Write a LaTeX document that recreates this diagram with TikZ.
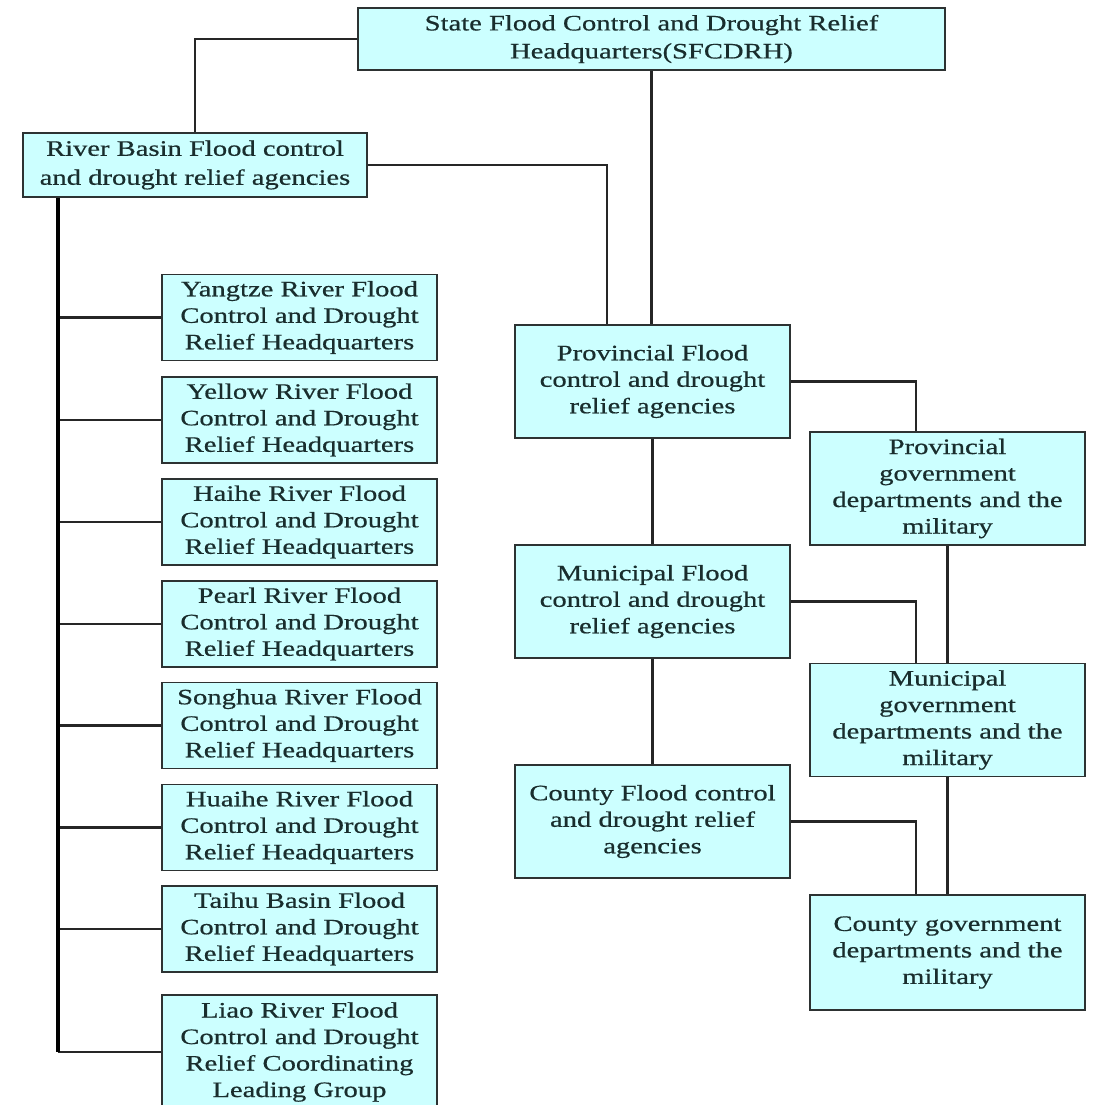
\documentclass[tikz,border=0pt]{standalone}
\usepackage{fontspec}
\setmainfont{Liberation Serif}[FakeStretch=1.3,FakeBold=0.6]
\definecolor{boxfill}{RGB}{204,255,255}
\definecolor{boxline}{RGB}{45,50,50}
\definecolor{txt}{RGB}{25,45,45}
\begin{document}
\begin{tikzpicture}[x=1pt,y=-1pt,
  box/.style={draw=boxline,fill=boxfill,line width=1.8pt,inner sep=0pt,align=center,
    text=txt,font=\fontsize{22}{26.5}\selectfont},
  bigbox/.style={box,minimum width=275,minimum height=113},
  leftbox/.style={box,minimum width=275,minimum height=86},
  conn/.style={draw=black!85,line width=2.3pt},
  busline/.style={draw=black,line width=3.4pt}]
\useasboundingbox (0,0) rectangle (1094,1105);
\clip (0,0) rectangle (1094,1105);
% top and river basin
\node[box,minimum width=587,minimum height=62,font=\fontsize{22}{28}\selectfont] (state) at (651.5,39)
  {State Flood Control and Drought Relief\\Headquarters(SFCDRH)};
\node[box,minimum width=344,minimum height=64,font=\fontsize{22}{29}\selectfont] (rb) at (195,165)
  {River Basin Flood control\\and drought relief agencies};
% middle column
\node[bigbox] (prov) at (652.5,381.5) {Provincial Flood\\control and drought\\relief agencies};
\node[bigbox] (mun) at (652.5,601.5) {Municipal Flood\\control and drought\\relief agencies};
\node[bigbox] (cty) at (652.5,821.5) {County Flood control\\and drought relief\\agencies};
% right column
\node[bigbox] (provg) at (947.5,488.5) {Provincial\\government\\departments and the\\military};
\node[bigbox] (mung) at (947.5,720) {Municipal\\government\\departments and the\\military};
\node[bigbox,minimum height=115] (ctyg) at (947.5,952.5) {County government\\departments and the\\military};
% left column
\node[leftbox] (yangtze) at (299.5,317.5) {Yangtze River Flood\\Control and Drought\\Relief Headquarters};
\node[leftbox] (yellow) at (299.5,420) {Yellow River Flood\\Control and Drought\\Relief Headquarters};
\node[leftbox] (haihe) at (299.5,522) {Haihe River Flood\\Control and Drought\\Relief Headquarters};
\node[leftbox] (pearl) at (299.5,624) {Pearl River Flood\\Control and Drought\\Relief Headquarters};
\node[leftbox] (songhua) at (299.5,725.5) {Songhua River Flood\\Control and Drought\\Relief Headquarters};
\node[leftbox] (huaihe) at (299.5,827.5) {Huaihe River Flood\\Control and Drought\\Relief Headquarters};
\node[leftbox] (taihu) at (299.5,929) {Taihu Basin Flood\\Control and Drought\\Relief Headquarters};
\node[leftbox,minimum height=114] (liao) at (299.5,1052) {Liao River Flood\\Control and Drought\\Relief Coordinating\\Leading Group};
% connectors
\draw[conn] (state.west) -| (rb.north);
\draw[conn] (rb.east) -| ([xshift=-45.5]prov.north);
\draw[conn] (state.south) -- (state.south |- prov.north);
\draw[conn] (prov.south) -- (mun.north);
\draw[conn] (mun.south) -- (cty.north);
\draw[conn] (prov.east) -| ([xshift=-31.5]provg.north);
\draw[conn] (mun.east) -| ([xshift=-31.5]mung.north);
\draw[conn] (cty.east) -| ([xshift=-31.5]ctyg.north);
\draw[conn] (provg.south) -- (mung.north);
\draw[conn] (mung.south) -- (ctyg.north);
\coordinate (bus) at ([xshift=36]rb.south west);
\foreach \n in {yangtze,yellow,haihe,pearl,songhua,huaihe,taihu}
  \draw[conn] (bus |- \n.west) -- (\n.west);
\draw[conn] (bus |- liao.west) -- (liao.west);
\draw[busline] (bus) -- (bus |- liao.west);
\end{tikzpicture}
\end{document}
